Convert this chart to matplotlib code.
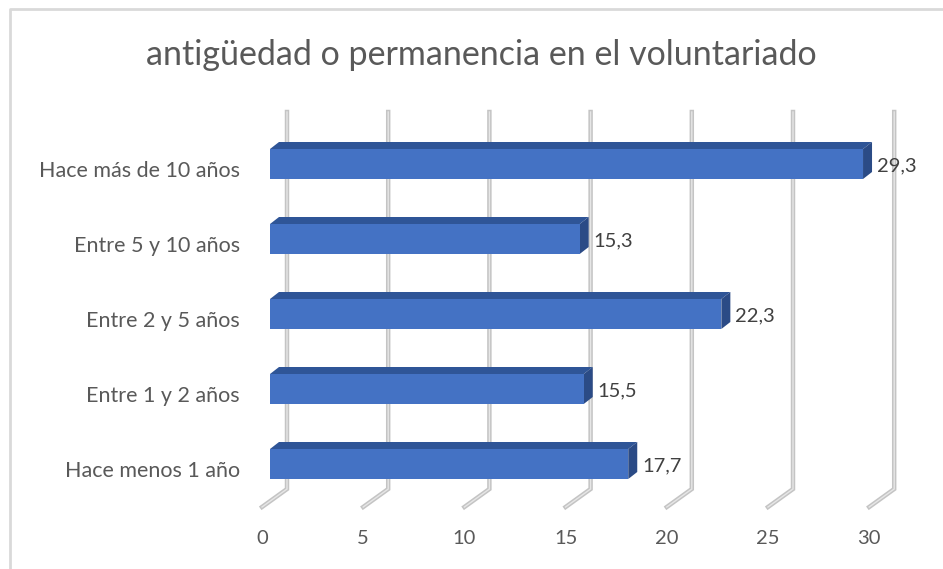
import matplotlib
matplotlib.use('Agg')
import matplotlib.pyplot as plt
from matplotlib.patches import Polygon
from matplotlib.lines import Line2D

# Data (bottom to top)
categories = ['Hace menos 1 año', 'Entre 1 y 2 años', 'Entre 2 y 5 años',
              'Entre 5 y 10 años', 'Hace más de 10 años']
values = [17.7, 15.5, 22.3, 15.3, 29.3]
value_labels = ['17,7', '15,5', '22,3', '15,3', '29,3']
ticks = [0, 5, 10, 15, 20, 25, 30]
title = 'antigüedad o permanencia en el voluntariado'

plt.rcParams['font.family'] = ['Lato', 'DejaVu Sans']

W, H = 943, 569
fig = plt.figure(figsize=(W / 100, H / 100), dpi=100)

# axes placed in pixel terms: x 240..930, y 90..560 (from top)
ax = fig.add_axes([240 / W, 1 - 560 / H, 690 / W, 470 / H])
px_x = 20.24   # pixels per value unit
px_y = 75.0    # pixels per category step
ax.set_xlim((240 - 270) / px_x, (930 - 270) / px_x)
ax.set_ylim((464 - 560) / px_y, (464 - 90) / px_y)
ax.axis('off')

# 3D geometry, in data units
bar_h = 30 / px_y
dx, dy = 9 / px_x, 7 / px_y
back_dx = 17 / px_x
floor_dx = -8 / px_x
grid_top = (464 - 112) / px_y
grid_bot = (464 - 489) / px_y
floor_y = (464 - 507) / px_y
label_y = (464 - 538) / px_y

# gridlines on back wall and floor
for t in ticks:
    xs = [t + back_dx, t + back_dx, t + floor_dx]
    ys = [grid_top, grid_bot, floor_y]
    ax.plot(xs, ys, color='#c4c4c4', lw=3.2, solid_joinstyle='miter', zorder=1)
    ax.plot(xs, ys, color='#e6e6e6', lw=1.0, solid_joinstyle='miter', zorder=1)
    ax.text(t + floor_dx, label_y, str(t), ha='center', va='center',
            fontsize=14.5, color='#595959')

# bars
front_c = '#4472c4'
top_c = '#2f5597'
side_c = '#2b4b86'
for i, (v, lab) in enumerate(zip(values, value_labels)):
    y0 = i - bar_h / 2
    y1 = i + bar_h / 2
    ax.add_patch(Polygon([(0, y1), (v, y1), (v + dx, y1 + dy), (dx, y1 + dy)],
                         closed=True, facecolor=top_c, edgecolor='none', zorder=3))
    ax.add_patch(Polygon([(v, y0), (v + dx, y0 + dy), (v + dx, y1 + dy), (v, y1)],
                         closed=True, facecolor=side_c, edgecolor='none', zorder=3))
    ax.barh(i, v, height=bar_h, left=0, color=front_c, zorder=4)
    ax.text(v + dx + 5 / px_x, i - 2 / px_y, lab, ha='left', va='center',
            fontsize=14.5, color='#404040', zorder=5)
    ax.text(-30 / px_x, i - 7 / px_y, categories[i], ha='right', va='center',
            fontsize=15.5, color='#595959')

fig.text(481 / W, 1 - 55 / H, title, ha='center', va='center',
         fontsize=24.5, color='#595959')

# outer chart border (left and top visible)
fig.add_artist(Line2D([10 / W, 10 / W, 1.0], [0.0, 1 - 9 / H, 1 - 9 / H],
                      transform=fig.transFigure, color='#d9d9d9', lw=2))

fig.savefig('out.png', dpi=100)
